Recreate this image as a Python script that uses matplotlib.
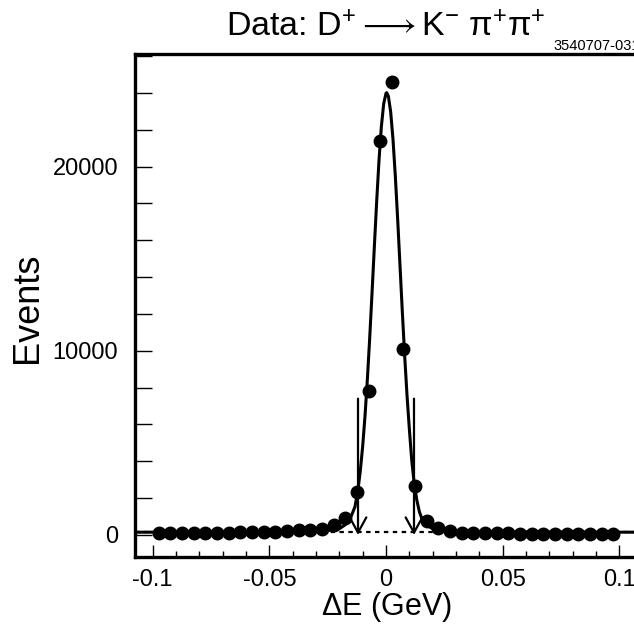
import matplotlib
matplotlib.use("Agg")
import matplotlib.pyplot as plt
from matplotlib.ticker import MultipleLocator

plt.rcParams['font.family'] = ['Liberation Sans', 'DejaVu Sans']
plt.rcParams['mathtext.fontset'] = 'custom'
plt.rcParams['mathtext.rm'] = 'Liberation Sans'
plt.rcParams['mathtext.it'] = 'Liberation Sans:italic'
plt.rcParams['mathtext.bf'] = 'Liberation Sans:bold'
plt.rcParams['axes.unicode_minus'] = False

# ---------------- data ----------------
bin_centers = [-0.0975, -0.0925, -0.0875, -0.0825, -0.0775, -0.0725, -0.0675, -0.0625,
               -0.0575, -0.0525, -0.0475, -0.0425, -0.0375, -0.0325, -0.0275, -0.0225,
               -0.0175, -0.0125, -0.0075, -0.0025, 0.0025, 0.0075, 0.0125, 0.0175,
               0.0225, 0.0275, 0.0325, 0.0375, 0.0425, 0.0475, 0.0525, 0.0575,
               0.0625, 0.0675, 0.0725, 0.0775, 0.0825, 0.0875, 0.0925, 0.0975]
events = [92, 109, 109, 109, 109, 127, 127, 145,
          163, 181, 181, 199, 253, 290, 344, 525,
          923, 2330, 7818, 21400, 24610, 10115, 2660, 740,
          380, 217, 127, 127, 109, 92, 92, 72,
          72, 72, 72, 72, 54, 54, 54, 36]

# fitted curve
fit_x = [-0.1076, -0.06, -0.04, -0.03, -0.0226, -0.0197, -0.0176, -0.0157, -0.0147,
         -0.0133, -0.0120, -0.0110, -0.0100, -0.0090, -0.0080, -0.0070, -0.0060,
         -0.0050, -0.0040, -0.0030, -0.0020, -0.0010, 0.0000, 0.0003, 0.0010,
         0.0020, 0.0030, 0.0040, 0.0050, 0.0060, 0.0070, 0.0080, 0.0090, 0.0100,
         0.0110, 0.0120, 0.0132, 0.0143, 0.0153, 0.0174, 0.0203, 0.0231, 0.03,
         0.06, 0.1076]
fit_y = [150, 160, 170, 200, 271, 364, 543, 814, 1086,
         1536, 2450, 3500, 4815, 6460, 8420, 10660, 13110,
         15640, 18100, 20330, 22150, 23400, 23980, 24010, 23830,
         22970, 21480, 19480, 17140, 14630, 12110, 9735, 7600, 5765,
         4100, 2900, 1900, 1265, 907, 543, 310, 200, 170,
         160, 150]

background_level = 165
cut_positions = [-0.012, 0.012]
arrow_top = 7400

xtick_vals = [-0.1, -0.05, 0, 0.05, 0.1]
xtick_labels = ['-0.1', '-0.05', '0', '0.05', '0.1']
ytick_vals = [0, 10000, 20000]
ytick_labels = ['0', '10000', '20000']

title = r'Data: D$^{+}\longrightarrow$K$^{-}$ π$^{+}$π$^{+}$'
tag = '3540707-031'
xlabel = r'$\Delta$E (GeV)'
ylabel = 'Events'

# ---------------- figure ----------------
W, H = 634, 636
fig = plt.figure(figsize=(W / 100, H / 100), dpi=100)
ax_left, ax_right, ax_top, ax_bottom = 135, 637, 54, 556.7
ax = fig.add_axes([ax_left / W, 1 - ax_bottom / H, (ax_right - ax_left) / W, (ax_bottom - ax_top) / H])

ax.set_xlim(-0.1076, 0.1076)
ax.set_ylim(-1180, 26110)

ax.plot([-0.1076, 0.1076], [background_level, background_level], color='black',
        lw=1.6, linestyle=(0, (2, 2)), zorder=1)
ax.plot(fit_x, fit_y, color='black', lw=2.2, zorder=2, solid_joinstyle='round')
ax.plot(bin_centers, events, 'o', color='black', markersize=9, zorder=3)

for cx in cut_positions:
    ax.annotate('', xy=(cx, 0), xytext=(cx, arrow_top),
                arrowprops=dict(arrowstyle='->,head_length=1.1,head_width=0.6',
                                lw=1.6, color='black', shrinkA=0, shrinkB=0,
                                mutation_scale=10), zorder=4)

for s in ['left', 'bottom', 'top', 'right']:
    ax.spines[s].set_linewidth(2.4)

ax.set_xticks(xtick_vals)
ax.set_xticklabels(xtick_labels)
ax.xaxis.set_minor_locator(MultipleLocator(0.01))
ax.set_yticks(ytick_vals)
ax.set_yticklabels(ytick_labels)
ax.yaxis.set_minor_locator(MultipleLocator(2000))

ax.tick_params(axis='x', which='major', direction='in', length=9, width=1.0,
               labelsize=17, pad=9, top=False)
ax.tick_params(axis='x', which='minor', direction='in', length=4.5, width=1.0, top=False)
ax.tick_params(axis='y', which='both', direction='in', length=12, width=1.0,
               right=False)
ax.tick_params(axis='y', which='major', labelsize=17, pad=12)

ax.set_title(title, fontsize=24.5, pad=13)
fig.text(553 / W, 1 - 50 / H, tag, fontsize=10.5, ha='left', va='baseline')

fig.text(386 / W, 1 - 615 / H, xlabel, fontsize=22, ha='center', va='baseline')
fig.text(28 / W, 1 - 308 / H, ylabel, fontsize=26, rotation=90, ha='center', va='center')

fig.savefig('out.png', dpi=100)
